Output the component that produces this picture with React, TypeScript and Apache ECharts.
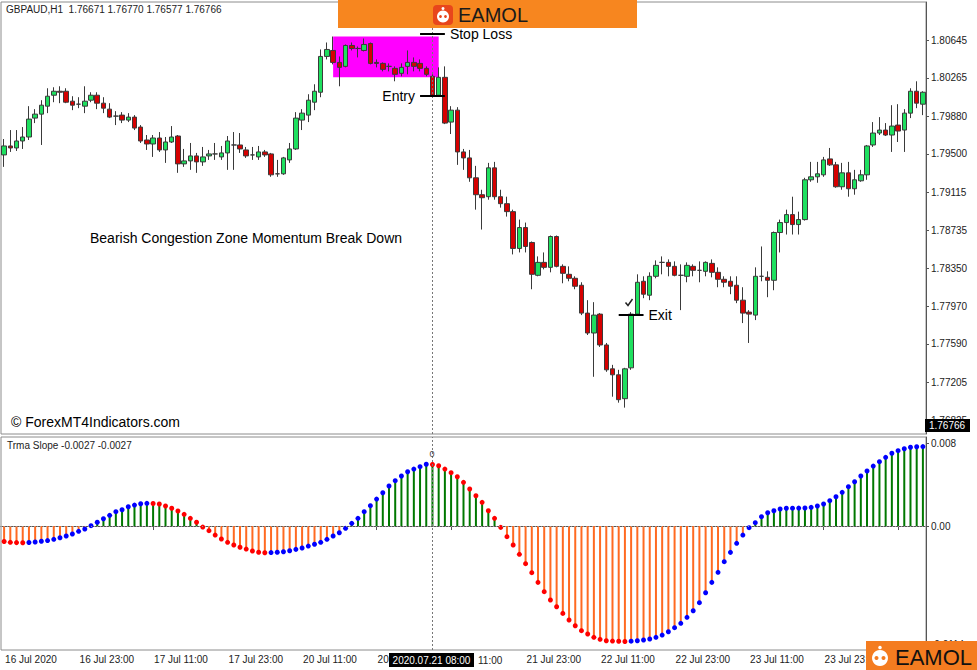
import React, { useEffect, useRef } from "react";
import * as echarts from "echarts";

const FONT = "'Liberation Sans', Arial, sans-serif";

// Trading sessions (H1 bars), broker time
const sessions = [
  { day: "2020.07.16", from: 11, to: 23 },
  { day: "2020.07.17", from: 0, to: 23 },
  { day: "2020.07.20", from: 0, to: 23 },
  { day: "2020.07.21", from: 0, to: 23 },
  { day: "2020.07.22", from: 0, to: 23 },
  { day: "2020.07.23", from: 0, to: 23 },
  { day: "2020.07.24", from: 0, to: 15 },
];
const categories: string[] = [];
sessions.forEach((s) => {
  for (let h = s.from; h <= s.to; h++) categories.push(`${s.day} ${String(h).padStart(2, "0")}:00`);
});

const tickEvery = 12;
// visible parts of the time labels (the crosshair tag hides parts of two, the logo hides the last)
const timeTickLabels = [
  "16 Jul 2020", "16 Jul 23:00", "17 Jul 11:00", "17 Jul 23:00", "20 Jul 11:00", "20",
  "", "21 Jul 23:00", "22 Jul 11:00", "22 Jul 23:00", "23 Jul 11:00", "23 Jul 23:00", "",
];
const partlyHiddenLabel = "11:00"; // tail of "21 Jul 11:00", right of the crosshair tag
const priceTicks = [1.80645, 1.80265, 1.7988, 1.795, 1.79115, 1.78735, 1.7835, 1.7797, 1.7759, 1.77205, 1.76825];
const slopeTicks = [0.008, 0, -0.0114];
const slopeTickLabels = ["0.008", "0.00", "-0.0114"];

const opens = [
  1.7949, 1.7958, 1.7956, 1.7963, 1.7967, 1.7986, 1.7990, 1.7998, 1.8009, 1.8013,
  1.8013, 1.8003, 1.8000, 1.7998, 1.8004, 1.8009, 1.8001, 1.7995, 1.7988, 1.7989,
  1.7984, 1.7987, 1.7977, 1.7964, 1.7960, 1.7966, 1.7954, 1.7962, 1.7968, 1.7940,
  1.7943, 1.7948, 1.7942, 1.7948, 1.7950, 1.7947, 1.7951, 1.7959, 1.7959, 1.7954,
  1.7949, 1.7947, 1.7952, 1.7950, 1.7930, 1.7930, 1.7944, 1.7955, 1.7984, 1.7989,
  1.8002, 1.8012, 1.8048, 1.8054, 1.8042, 1.8038, 1.8059, 1.8056, 1.8054, 1.8061,
  1.8042, 1.8041, 1.8038, 1.8036, 1.8031, 1.8038, 1.8042, 1.8041, 1.8036, 1.8028,
  1.8009, 1.8027, 1.7982, 1.7994, 1.7952, 1.7946, 1.7926, 1.7909, 1.7907, 1.7936,
  1.7907, 1.7900, 1.7892, 1.7855, 1.7876, 1.7861, 1.7828, 1.7841, 1.7836, 1.7867,
  1.7837, 1.7829, 1.7825, 1.7818, 1.7790, 1.7770, 1.7789, 1.7758, 1.7734, 1.7728,
  1.7704, 1.7735, 1.7789, 1.7822, 1.7808, 1.7827, 1.7841, 1.7841, 1.7837, 1.7828,
  1.7827, 1.7837, 1.7833, 1.7832, 1.7840, 1.7831, 1.7824, 1.7822, 1.7818, 1.7803,
  1.7791, 1.7788, 1.7827, 1.7826, 1.7823, 1.7871, 1.7881, 1.7889, 1.7879, 1.7884,
  1.7924, 1.7927, 1.7929, 1.7945, 1.7939, 1.7917, 1.7931, 1.7915, 1.7923, 1.7929,
  1.7959, 1.7971, 1.7974, 1.7969, 1.7979, 1.7974, 1.7991, 1.8013, 1.8000,
];
const closes = [
  1.7958, 1.7956, 1.7963, 1.7967, 1.7985, 1.7990, 1.7999, 1.8008, 1.8013, 1.8012,
  1.8002, 1.7999, 1.8000, 1.8003, 1.8009, 1.8001, 1.7996, 1.7987, 1.7988, 1.7984,
  1.7987, 1.7976, 1.7963, 1.7960, 1.7966, 1.7954, 1.7962, 1.7967, 1.7940, 1.7943,
  1.7948, 1.7942, 1.7947, 1.7950, 1.7950, 1.7951, 1.7963, 1.7959, 1.7955, 1.7948,
  1.7949, 1.7952, 1.7949, 1.7929, 1.7930, 1.7946, 1.7955, 1.7986, 1.7991, 1.8004,
  1.8013, 1.8048, 1.8055, 1.8042, 1.8037, 1.8059, 1.8056, 1.8056, 1.8060, 1.8041,
  1.8041, 1.8035, 1.8038, 1.8030, 1.8037, 1.8042, 1.8038, 1.8036, 1.8030, 1.8009,
  1.8027, 1.7981, 1.7994, 1.7952, 1.7946, 1.7926, 1.7909, 1.7906, 1.7936, 1.7907,
  1.7900, 1.7892, 1.7855, 1.7876, 1.7857, 1.7829, 1.7841, 1.7836, 1.7867, 1.7837,
  1.7830, 1.7825, 1.7817, 1.7790, 1.7770, 1.7788, 1.7758, 1.7733, 1.7728, 1.7703,
  1.7734, 1.7789, 1.7821, 1.7809, 1.7827, 1.7838, 1.7841, 1.7837, 1.7828, 1.7828,
  1.7838, 1.7833, 1.7833, 1.7841, 1.7831, 1.7824, 1.7821, 1.7817, 1.7803, 1.7790,
  1.7789, 1.7827, 1.7827, 1.7823, 1.7871, 1.7881, 1.7889, 1.7879, 1.7884, 1.7924,
  1.7927, 1.7930, 1.7944, 1.7939, 1.7917, 1.7931, 1.7915, 1.7924, 1.7929, 1.7958,
  1.7971, 1.7974, 1.7969, 1.7978, 1.7973, 1.7991, 1.8013, 1.8001, 1.8012,
];
const lows = [
  1.7937, 1.7952, 1.7953, 1.7955, 1.7964, 1.7981, 1.7959, 1.7991, 1.8002, 1.8001,
  1.8001, 1.7994, 1.7996, 1.7991, 1.8002, 1.7995, 1.7991, 1.7986, 1.7979, 1.7981,
  1.7982, 1.7974, 1.7961, 1.7954, 1.7947, 1.7952, 1.7941, 1.7961, 1.7931, 1.7937,
  1.7934, 1.7931, 1.7938, 1.7944, 1.7944, 1.7944, 1.7934, 1.7934, 1.7951, 1.7946,
  1.7944, 1.7944, 1.7947, 1.7927, 1.7927, 1.7929, 1.7941, 1.7954, 1.7974, 1.7982,
  1.7994, 1.8007, 1.8045, 1.8040, 1.8018, 1.8037, 1.8054, 1.8047, 1.8053, 1.8040,
  1.8037, 1.8033, 1.8033, 1.8023, 1.8028, 1.8030, 1.8033, 1.8033, 1.8028, 1.8008,
  1.8008, 1.7980, 1.7970, 1.7939, 1.7934, 1.7922, 1.7894, 1.7874, 1.7904, 1.7904,
  1.7896, 1.7887, 1.7849, 1.7851, 1.7851, 1.7814, 1.7827, 1.7834, 1.7831, 1.7836,
  1.7820, 1.7822, 1.7814, 1.7788, 1.7768, 1.7726, 1.7756, 1.7731, 1.7706, 1.7700,
  1.7695, 1.7733, 1.7788, 1.7805, 1.7803, 1.7825, 1.7829, 1.7827, 1.7827, 1.7793,
  1.7821, 1.7827, 1.7821, 1.7827, 1.7826, 1.7816, 1.7816, 1.7809, 1.7800, 1.7780,
  1.7760, 1.7783, 1.7822, 1.7806, 1.7813, 1.7851, 1.7869, 1.7869, 1.7869, 1.7883,
  1.7922, 1.7921, 1.7927, 1.7938, 1.7916, 1.7914, 1.7907, 1.7909, 1.7922, 1.7924,
  1.7957, 1.7969, 1.7968, 1.7952, 1.7962, 1.7952, 1.7986, 1.7996, 1.7989,
];
const highs = [
  1.7965, 1.7974, 1.7974, 1.7977, 1.7998, 1.7995, 1.8004, 1.8016, 1.8017, 1.8018,
  1.8016, 1.8008, 1.8007, 1.8018, 1.8012, 1.8012, 1.8007, 1.8001, 1.7993, 1.7992,
  1.7991, 1.7989, 1.7979, 1.7969, 1.7969, 1.7972, 1.7967, 1.7978, 1.7969, 1.7955,
  1.7961, 1.7951, 1.7957, 1.7954, 1.7961, 1.7958, 1.7968, 1.7972, 1.7971, 1.7957,
  1.7957, 1.7958, 1.7954, 1.7951, 1.7944, 1.7947, 1.7961, 1.7992, 1.7995, 1.8010,
  1.8020, 1.8055, 1.8062, 1.8068, 1.8048, 1.8060, 1.8062, 1.8058, 1.8066, 1.8062,
  1.8045, 1.8042, 1.8041, 1.8038, 1.8041, 1.8054, 1.8047, 1.8045, 1.8038, 1.8030,
  1.8037, 1.8038, 1.7998, 1.7997, 1.7955, 1.7954, 1.7938, 1.7914, 1.7941, 1.7942,
  1.7914, 1.7907, 1.7894, 1.7884, 1.7881, 1.7862, 1.7847, 1.7851, 1.7868, 1.7868,
  1.7839, 1.7837, 1.7827, 1.7821, 1.7803, 1.7801, 1.7790, 1.7760, 1.7738, 1.7733,
  1.7735, 1.7791, 1.7829, 1.7827, 1.7831, 1.7843, 1.7847, 1.7844, 1.7842, 1.7839,
  1.7841, 1.7839, 1.7842, 1.7842, 1.7844, 1.7836, 1.7827, 1.7827, 1.7827, 1.7816,
  1.7793, 1.7836, 1.7857, 1.7832, 1.7872, 1.7884, 1.7894, 1.7907, 1.7892, 1.7926,
  1.7942, 1.7942, 1.7947, 1.7956, 1.7942, 1.7941, 1.7942, 1.7934, 1.7934, 1.7959,
  1.7982, 1.7987, 1.7981, 1.7999, 1.8000, 1.7995, 1.8016, 1.8023, 1.8013,
];

// Trma Slope indicator values
const trmaSlope = [
  -0.00149, -0.00157, -0.0016, -0.00161, -0.00159, -0.00154, -0.00147, -0.0014, -0.00128, -0.00113,
  -0.00096, -0.00077, -0.00051, -0.00029, 0.00003, 0.00036, 0.0007, 0.00103, 0.00138, 0.00157,
  0.00186, 0.00202, 0.00215, 0.00219, 0.00217, 0.00212, 0.00193, 0.00171, 0.00145, 0.00113,
  0.00074, 0.00036, -0.0001, -0.00045, -0.00087, -0.00125, -0.00157, -0.00183, -0.00205, -0.00222,
  -0.00241, -0.00253, -0.00258, -0.00256, -0.00253, -0.00248, -0.00238, -0.00225, -0.00212, -0.00193,
  -0.00176, -0.00157, -0.00128, -0.00096, -0.00065, -0.00022, 0.00026, 0.00074, 0.00138, 0.00196,
  0.0026, 0.00321, 0.00386, 0.00437, 0.00482, 0.00523, 0.00549, 0.00572, 0.00595, 0.00593,
  0.00581, 0.00549, 0.00514, 0.00475, 0.00421, 0.00357, 0.00292, 0.00228, 0.00147, 0.00074,
  -0.00013, -0.00103, -0.00183, -0.00273, -0.00363, -0.0045, -0.00543, -0.00633, -0.00713, -0.00778,
  -0.00842, -0.00906, -0.00961, -0.01009, -0.01041, -0.01073, -0.01092, -0.01106, -0.01109, -0.01111,
  -0.01113, -0.0111, -0.01106, -0.01099, -0.01089, -0.01073, -0.01051, -0.01019, -0.0098, -0.00938,
  -0.0088, -0.00817, -0.00739, -0.00643, -0.00543, -0.00446, -0.00344, -0.00254, -0.00167, -0.00087,
  -0.00016, 0.00032, 0.0009, 0.00128, 0.00147, 0.00164, 0.00171, 0.00172, 0.00173, 0.00174,
  0.0018, 0.00193, 0.00212, 0.00244, 0.00282, 0.00325, 0.00379, 0.00427, 0.00482, 0.0053,
  0.00578, 0.0062, 0.00662, 0.00701, 0.00726, 0.00745, 0.00759, 0.00764, 0.00766,
];

// Annotations (bar indices and prices)
const zone = { from: 53, to: 70, top: 1.8068, bottom: 1.8027 };
const stopLoss = { from: 67, to: 71, price: 1.8071 };
const entry = { from: 67, to: 71, price: 1.8008 };
const exitTrade = { from: 99, to: 103, price: 1.7788 };
const crossIndex = 69;

export default function App() {
  const ref = useRef<HTMLDivElement>(null);
  useEffect(() => {
    if (!ref.current) return;
    const chart = echarts.init(ref.current, undefined, { renderer: "svg" });
    const candles = opens.map((o, i) => [o, closes[i], lows[i], highs[i]]);
    const dotColor = trmaSlope.map((v, i) => {
      const rising = i === 0 ? trmaSlope[1] > v : v >= trmaSlope[i - 1];
      return rising ? "#0000ff" : "#ff0000";
    });
    const lineLabel = (text: string, pos: string) => ({
      show: true, position: pos, formatter: text, color: "#000", fontSize: 14, fontFamily: FONT, distance: 5,
    });
    const hLine = (a: any, text: string, pos: string) => [
      { coord: [categories[a.from], a.price], lineStyle: { color: "#000", width: 2, type: "solid" }, label: lineLabel(text, pos) },
      { coord: [categories[a.to], a.price] },
    ];
    const crossLine = { xAxis: categories[crossIndex], lineStyle: { color: "#777", width: 1, type: [2, 2] }, label: { show: false } };
    const tickFn = (i: number) => i % tickEvery === 0;

    const option: any = {
      animation: false,
      backgroundColor: "#ffffff",
      textStyle: { fontFamily: FONT },
      grid: [
        { left: 1, top: 2, width: 925, height: 432, show: true, borderColor: "#8c8c8c", borderWidth: 1, backgroundColor: "transparent" },
        { left: 1, top: 437, width: 925, height: 213, show: true, borderColor: "#8c8c8c", borderWidth: 1, backgroundColor: "transparent" },
      ],
      xAxis: [
        { type: "category", gridIndex: 0, data: categories, boundaryGap: true, show: false },
        {
          type: "category", gridIndex: 1, data: categories, boundaryGap: true,
          axisLine: { show: true, lineStyle: { color: "#555" } },
          axisTick: { show: true, interval: tickFn, alignWithLabel: true, length: 4, lineStyle: { color: "#555" } },
          axisLabel: {
            interval: tickFn, align: "left", margin: 4, fontSize: 10, color: "#222", padding: [0, 0, 0, 1],
            formatter: (_v: string, i: number) => timeTickLabels[Math.round(i / tickEvery)] ?? "",
          },
        },
      ],
      yAxis: [
        {
          type: "value", gridIndex: 0, position: "right", min: 1.76685, max: 1.81027,
          splitLine: { show: false },
          axisLine: { show: true, lineStyle: { color: "#555" } },
          axisTick: { show: true, customValues: priceTicks, length: 3, lineStyle: { color: "#555" } },
          axisLabel: { customValues: priceTicks, formatter: (v: number) => v.toFixed(5), fontSize: 10, color: "#222", margin: 5 },
        },
        {
          type: "value", gridIndex: 1, position: "right", min: -0.01195, max: 0.00858,
          splitLine: { show: false },
          axisLine: { show: true, lineStyle: { color: "#555" } },
          axisTick: { show: true, customValues: slopeTicks, length: 3, lineStyle: { color: "#555" } },
          axisLabel: {
            customValues: slopeTicks, fontSize: 10, color: "#222", margin: 5,
            formatter: (v: number) => slopeTickLabels[slopeTicks.findIndex((t) => Math.abs(t - v) < 1e-9)] ?? "",
          },
        },
      ],
      series: [
        {
          type: "line", name: "zone", xAxisIndex: 0, yAxisIndex: 0, data: [], z: 1, silent: true,
          markArea: {
            silent: true,
            itemStyle: { color: "#ff00ff", opacity: 1 },
            data: [[{ coord: [categories[zone.from], zone.top] }, { coord: [categories[zone.to], zone.bottom] }]],
          },
        },
        {
          type: "candlestick", name: "GBPAUD", xAxisIndex: 0, yAxisIndex: 0, z: 3, barWidth: 5,
          data: candles,
          itemStyle: { color: "#1ee05f", color0: "#d60000", borderColor: "#3a3a3a", borderColor0: "#3a3a3a", borderWidth: 1 },
          markLine: {
            silent: true, symbol: ["none", "none"],
            data: [
              crossLine,
              hLine(stopLoss, "Stop Loss", "end"),
              hLine(entry, "Entry", "start"),
              hLine(exitTrade, "Exit", "end"),
            ],
          },
        },
        {
          type: "bar", name: "Trma Slope", xAxisIndex: 1, yAxisIndex: 1, barWidth: 2, z: 2,
          data: trmaSlope,
          itemStyle: { color: (p: any) => (p.value >= 0 ? "#007800" : "#ff6a21") },
          markLine: {
            silent: true, symbol: ["none", "none"],
            data: [
              { yAxis: 0, lineStyle: { color: "#9a9a9a", width: 1, type: [1, 2] }, label: { show: false } },
              crossLine,
            ],
          },
        },
        {
          type: "scatter", name: "Trma dots", xAxisIndex: 1, yAxisIndex: 1, symbolSize: 5, z: 4,
          data: trmaSlope,
          itemStyle: { color: (p: any) => dotColor[p.dataIndex], opacity: 1 },
        },
      ],
      graphic: [
        { type: "text", x: 6, y: 9, style: { text: "GBPAUD,H1  1.76671 1.76770 1.76577 1.76766", fontSize: 10, fontFamily: FONT, fill: "#222", verticalAlign: "middle" }, z: 20 },
        { type: "text", x: 7, y: 445, style: { text: "Trma Slope -0.0027 -0.0027", fontSize: 10, fontFamily: FONT, fill: "#222", verticalAlign: "middle" }, z: 20 },
        { type: "text", x: 90, y: 238, style: { text: "Bearish Congestion Zone Momentum Break Down", fontSize: 14, fontFamily: FONT, fill: "#000", verticalAlign: "middle" }, z: 20 },
        { type: "text", x: 11, y: 422, style: { text: "© ForexMT4Indicators.com", fontSize: 14, fontFamily: FONT, fill: "#000", verticalAlign: "middle" }, z: 20 },
        { type: "polyline", shape: { points: [[625.5, 302.5], [628, 305.5], [632.5, 299]] }, style: { stroke: "#222", lineWidth: 1.5, fill: "none" }, z: 20 },
        { type: "text", x: 432, y: 454, style: { text: "0", fontSize: 9, fontFamily: FONT, fill: "#444", align: "center", verticalAlign: "middle" }, z: 20 },
        // current price tag
        { type: "rect", shape: { x: 925, y: 419, width: 45, height: 13 }, style: { fill: "#000" }, z: 20 },
        { type: "text", x: 947, y: 425.5, style: { text: "1.76766", fontSize: 10, fontFamily: FONT, fill: "#fff", align: "center", verticalAlign: "middle" }, z: 21 },
        // crosshair time tag
        { type: "rect", shape: { x: 389, y: 653, width: 85, height: 14 }, style: { fill: "#000" }, z: 20 },
        { type: "text", x: 431.5, y: 660, style: { text: "2020.07.21 08:00", fontSize: 10, fontFamily: FONT, fill: "#fff", align: "center", verticalAlign: "middle" }, z: 21 },
        { type: "text", x: 478, y: 660, style: { text: partlyHiddenLabel, fontSize: 10, fontFamily: FONT, fill: "#222", verticalAlign: "middle" }, z: 20 },
        // top banner
        { type: "rect", shape: { x: 338, y: 0, width: 299, height: 28 }, style: { fill: "#f7861f" }, z: 30 },
        { type: "rect", shape: { x: 433, y: 5, width: 20, height: 20, r: 4 }, style: { fill: "#e8461c" }, z: 31 },
        { type: "circle", shape: { cx: 443, cy: 16.5, r: 6 }, style: { fill: "#fff" }, z: 32 },
        { type: "circle", shape: { cx: 443, cy: 8.5, r: 1.5 }, style: { fill: "#fff" }, z: 32 },
        { type: "circle", shape: { cx: 440.5, cy: 16.5, r: 1.4 }, style: { fill: "#e8461c" }, z: 33 },
        { type: "circle", shape: { cx: 445.5, cy: 16.5, r: 1.4 }, style: { fill: "#e8461c" }, z: 33 },
        { type: "text", x: 458, y: 15, style: { text: "EAMOL", fontSize: 20, fontFamily: FONT, fill: "#1a1a1a", verticalAlign: "middle" }, z: 32 },
        // bottom-right logo
        { type: "rect", shape: { x: 866, y: 641, width: 111, height: 29 }, style: { fill: "#f47c20" }, z: 30 },
        { type: "circle", shape: { cx: 880, cy: 658, r: 8 }, style: { fill: "#fff" }, z: 31 },
        { type: "circle", shape: { cx: 880, cy: 647.5, r: 1.8 }, style: { fill: "#fff" }, z: 31 },
        { type: "circle", shape: { cx: 876.5, cy: 658, r: 2 }, style: { fill: "#f47c20" }, z: 32 },
        { type: "circle", shape: { cx: 883.5, cy: 658, r: 2 }, style: { fill: "#f47c20" }, z: 32 },
        { type: "text", x: 895, y: 657, style: { text: "EAMOL", fontSize: 22, fontFamily: FONT, fill: "#111", verticalAlign: "middle" }, z: 31 },
      ],
    };
    chart.setOption(option);
    return () => chart.dispose();
  }, []);
  return <div ref={ref} style={{ position: "absolute", left: 0, top: 0, width: 977, height: 670 }} />;
}
